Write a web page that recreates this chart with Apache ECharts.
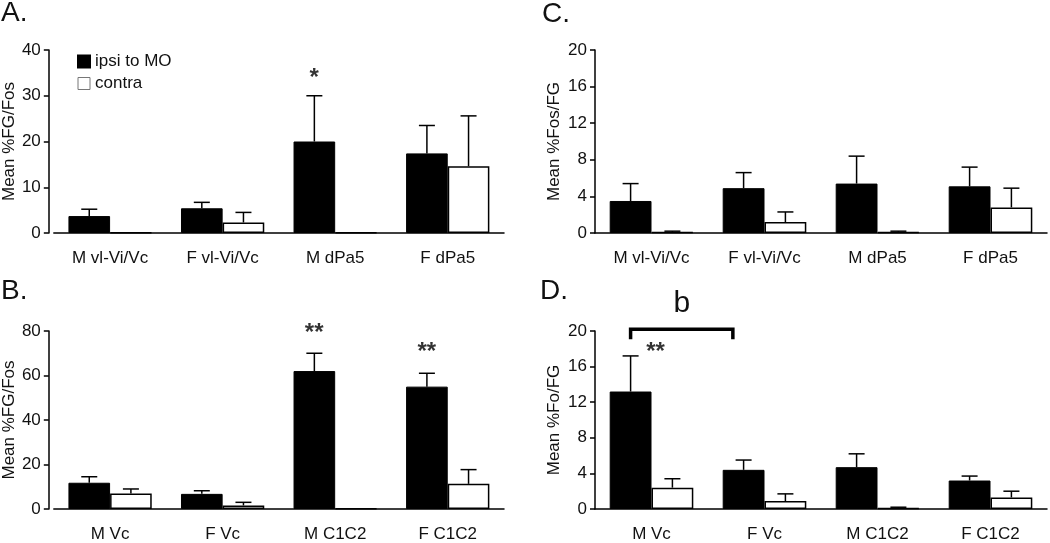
<!DOCTYPE html>
<html>
<head>
<meta charset="utf-8">
<script src="https://cdn.jsdelivr.net/npm/echarts@6/dist/echarts.min.js"></script>
<style>
html,body{margin:0;padding:0;background:#fff;}
#main{width:1050px;height:543px;}
</style>
</head>
<body>
<div id="main"></div>
<script>
// categories
var catsTop = ['M vl-Vi/Vc', 'F vl-Vi/Vc', 'M dPa5', 'F dPa5'];
var catsBottom = ['M Vc', 'F Vc', 'M C1C2', 'F C1C2'];

// A. Mean %FG/Fos (mean, upper error)
var aIpsi = [3.7, 5.4, 20.0, 17.4];
var aIpsiErr = [5.2, 6.7, 30.0, 23.5];
var aContra = [0.1, 2.3, 0.1, 14.6];
var aContraErr = [0.1, 4.5, 0.1, 25.6];

// B. Mean %FG/Fos
var bIpsi = [11.8, 6.8, 62.0, 55.0];
var bIpsiErr = [14.5, 8.2, 70.0, 61.0];
var bContra = [7.0, 1.6, 0.2, 11.3];
var bContraErr = [9.0, 3.0, 0.2, 17.7];

// C. Mean %Fos/FG
var cIpsi = [3.5, 4.9, 5.4, 5.1];
var cIpsiErr = [5.4, 6.6, 8.4, 7.2];
var cContra = [0.1, 1.2, 0.1, 2.8];
var cContraErr = [0.2, 2.3, 0.2, 4.9];

// D. Mean %Fo/FG
var dIpsi = [13.2, 4.4, 4.7, 3.2];
var dIpsiErr = [17.2, 5.5, 6.2, 3.7];
var dContra = [2.4, 0.9, 0.1, 1.3];
var dContraErr = [3.4, 1.7, 0.2, 2.0];

// significance marks: [grid, category index, value, text, x offset]
var stars = [
    [0, 2, 33.7, '*', -21],
    [1, 2, 79, '**', -21],
    [1, 3, 70.4, '**', -21],
    [3, 0, 17.6, '**', 4]
];

var FONT = 'Liberation Sans';
var BARW = 0.37;   // fraction of category band

var myChart = echarts.init(document.getElementById('main'));

var grids = [
    {left: 53, top: 50, width: 451, height: 183},
    {left: 53, top: 331, width: 451, height: 183},
    {left: 595, top: 50, width: 452, height: 183},
    {left: 595, top: 331, width: 452, height: 183}
];
var yCfg = [
    {max: 40, interval: 10, name: 'Mean %FG/Fos', offset: 5, gap: 30},
    {max: 80, interval: 20, name: 'Mean %FG/Fos', offset: 5, gap: 30},
    {max: 20, interval: 4, name: 'Mean %Fos/FG', offset: 0, gap: 32},
    {max: 20, interval: 4, name: 'Mean %Fo/FG', offset: 0, gap: 32}
];
var panels = [
    [catsTop, aIpsi, aIpsiErr, aContra, aContraErr],
    [catsBottom, bIpsi, bIpsiErr, bContra, bContraErr],
    [catsTop, cIpsi, cIpsiErr, cContra, cContraErr],
    [catsBottom, dIpsi, dIpsiErr, dContra, dContraErr]
];

var xAxes = [], yAxes = [], series = [];

function errRender(sign) {
    return function (params, api) {
        var i = api.value(0);
        var top = api.value(1);
        var mean = api.value(2);
        if (top <= mean) return null;
        var band = api.size([1, 0])[0];
        var off = sign * band * BARW / 2;
        var p0 = api.coord([i, mean]);
        var p1 = api.coord([i, top]);
        var x = p0[0] + off;
        var st = {stroke: '#000', lineWidth: 1.5};
        return {
            type: 'group',
            children: [
                {type: 'line', shape: {x1: x, y1: p0[1], x2: x, y2: p1[1]}, style: st},
                {type: 'line', shape: {x1: x - 8, y1: p1[1], x2: x + 8, y2: p1[1]}, style: st}
            ]
        };
    };
}

function errData(mean, err) {
    var out = [];
    for (var i = 0; i < mean.length; i++) {
        out.push([i, err[i], mean[i]]);
    }
    return out;
}

for (var g = 0; g < 4; g++) {
    var p = panels[g];
    xAxes.push({
        type: 'category', gridIndex: g, data: p[0],
        axisLine: {lineStyle: {color: '#000', width: 1.5}},
        axisTick: {show: false},
        axisLabel: {color: '#111', fontSize: 17, fontFamily: FONT, margin: 17}
    });
    yAxes.push({
        type: 'value', gridIndex: g, min: 0, max: yCfg[g].max, interval: yCfg[g].interval,
        offset: yCfg[g].offset,
        name: yCfg[g].name, nameLocation: 'middle', nameGap: yCfg[g].gap, nameRotate: 90,
        nameTextStyle: {color: '#111', fontSize: 17, fontFamily: FONT},
        axisLine: {show: true, lineStyle: {color: '#000', width: 1.5}},
        axisTick: {show: true, length: 5, lineStyle: {color: '#000', width: 1.5}},
        axisLabel: {color: '#111', fontSize: 17, fontFamily: FONT, margin: 8},
        splitLine: {show: false}
    });
    series.push({
        name: 'ipsi to MO', type: 'bar', xAxisIndex: g, yAxisIndex: g,
        data: p[1], barWidth: (BARW * 100) + '%', barGap: '0%',
        itemStyle: {color: '#000', borderColor: '#000', borderWidth: 1}
    });
    series.push({
        name: 'contra', type: 'bar', xAxisIndex: g, yAxisIndex: g,
        data: p[3], barWidth: (BARW * 100) + '%', barGap: '0%',
        itemStyle: {color: '#fff', borderColor: '#000', borderWidth: 1.5}
    });
    series.push({
        type: 'custom', xAxisIndex: g, yAxisIndex: g, z: 5,
        renderItem: errRender(-1), data: errData(p[1], p[2])
    });
    series.push({
        type: 'custom', xAxisIndex: g, yAxisIndex: g, z: 5,
        renderItem: errRender(1), data: errData(p[3], p[4])
    });
}

// significance stars as a scatter series per panel
for (var k = 0; k < stars.length; k++) {
    var s = stars[k];
    series.push({
        type: 'scatter', xAxisIndex: s[0], yAxisIndex: s[0], symbolSize: 0, z: 6,
        clip: false,
        data: [[s[1], s[2]]],
        label: {
            show: true, position: 'inside', formatter: s[3],
            color: '#000', fontSize: 24, fontWeight: 'bold', fontFamily: FONT,
            offset: [s[4], 0]
        },
        silent: true
    });
}

option = {
    animation: false,
    backgroundColor: '#fff',
    grid: grids,
    xAxis: xAxes,
    yAxis: yAxes,
    legend: {
        data: [
            {name: 'ipsi to MO', itemStyle: {color: '#000', borderColor: '#000'}},
            {name: 'contra', itemStyle: {color: '#fff', borderColor: '#777', borderWidth: 1}}
        ],
        orient: 'vertical', left: 72, top: 48,
        icon: 'rect', itemWidth: 12, itemHeight: 12, itemGap: 5,
        textStyle: {color: '#111', fontSize: 17, fontFamily: FONT},
        selectedMode: false
    },
    graphic: [
        {type: 'text', left: 1, top: -1, style: {text: 'A.', fontSize: 28, fontFamily: FONT, fill: '#111'}},
        {type: 'text', left: 1, top: 277, style: {text: 'B.', fontSize: 28, fontFamily: FONT, fill: '#111'}},
        {type: 'text', left: 542, top: 0, style: {text: 'C.', fontSize: 28, fontFamily: FONT, fill: '#111'}},
        {type: 'text', left: 540, top: 277, style: {text: 'D.', fontSize: 28, fontFamily: FONT, fill: '#111'}}
    ],
    series: series
};
myChart.setOption(option);

// bracket "b" over panel D (M Vc ipsi to F Vc)
var pa = myChart.convertToPixel({gridIndex: 3}, [0, 20.2]);
var pb = myChart.convertToPixel({gridIndex: 3}, [1, 20.2]);
var bandD = pb[0] - pa[0];
var bx1 = pa[0] - bandD * BARW / 2;
var bx2 = pb[0] - bandD * 0.28;
var by = pa[1];
myChart.setOption({
    graphic: option.graphic.concat([
        {type: 'polyline', shape: {points: [[bx1, by + 10], [bx1, by], [bx2, by], [bx2, by + 10]]},
         style: {stroke: '#000', lineWidth: 3.5, fill: null}},
        {type: 'text', x: (bx1 + bx2) / 2, y: by - 10,
         style: {text: 'b', fontSize: 30, fontFamily: FONT, fill: '#111', textAlign: 'center', textVerticalAlign: 'bottom'}}
    ])
});
</script>
</body>
</html>
